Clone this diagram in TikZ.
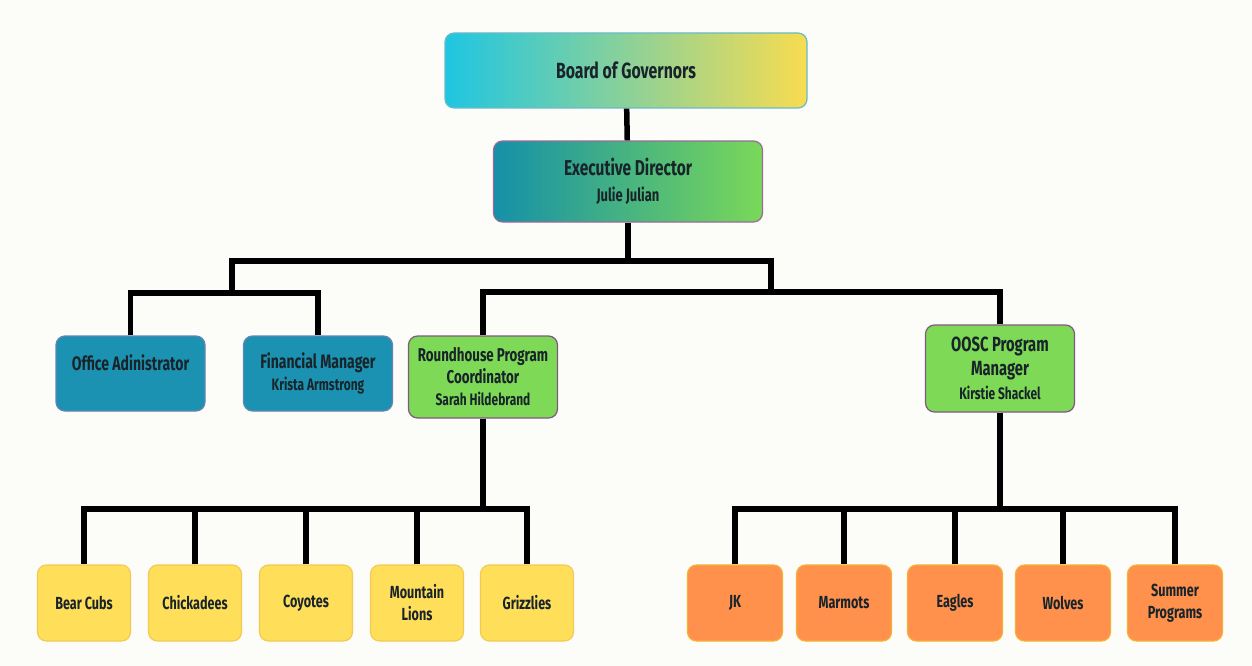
\documentclass[tikz,border=0pt]{standalone}
\usepackage{fontspec}
\newfontfamily\orgfont{Fira Sans}[FakeStretch=0.72]
\usetikzlibrary{positioning}

\definecolor{bgpaper}{HTML}{FCFCF8}
\definecolor{inkdark}{HTML}{18242A}
\definecolor{govleft}{HTML}{1EC6E2}
\definecolor{govright}{HTML}{F8DC50}
\definecolor{exleft}{HTML}{1590A8}
\definecolor{exright}{HTML}{7AD858}
\definecolor{staffblue}{HTML}{1C92B2}
\definecolor{progreen}{HTML}{7ED957}
\definecolor{groupyellow}{HTML}{FFDE59}
\definecolor{grouporange}{HTML}{FF914D}

\tikzset{
  box/.style={rounded corners=9pt, draw, line width=1.2pt, align=center,
    text=inkdark, inner sep=2pt,
    font=\orgfont\bfseries\fontsize{19.5}{22}\selectfont},
  staffbox/.style={box, fill=staffblue, draw=staffblue!70!violet!80,
    minimum width=149pt, minimum height=75pt},
  progbox/.style={box, fill=progreen, draw=gray!70!violet,
    minimum width=149pt},
  yellowbox/.style={box, fill=groupyellow, draw=groupyellow!80!brown,
    minimum width=93pt, minimum height=76pt,
    font=\orgfont\bfseries\fontsize{17.5}{22}\selectfont},
  orangebox/.style={box, fill=grouporange, draw=grouporange!80!brown!70!yellow,
    minimum width=95pt, minimum height=76pt,
    font=\orgfont\bfseries\fontsize{17.5}{22}\selectfont},
  link/.style={line width=5.5pt, draw=black}
}
\newcommand{\who}[1]{{\fontsize{16.6}{20}\selectfont #1}}

\begin{document}
\begin{tikzpicture}[x=1pt,y=-1pt]
\fill[bgpaper] (0,0) rectangle (1252,666);
\useasboundingbox (0,0) rectangle (1252,666);

% top of the tree
\node[box, left color=govleft, right color=govright, draw=govleft!60!gray!80,
  minimum width=362pt, minimum height=75pt,
  font=\orgfont\bfseries\fontsize{22}{22}\selectfont] (board) at (626,70.5) {Board of Governors};
\node[box, left color=exleft, right color=exright, draw=violet!45!gray!80,
  minimum width=269pt, minimum height=81pt,
  font=\orgfont\bfseries\fontsize{21.5}{26}\selectfont] (exec) at (628,181.5)
  {Executive Director\\{\fontsize{18}{20}\selectfont Julie Julian}};

% second level
\node[staffbox] (office) at (130.5,373.5) {Office Adinistrator\\\who{\phantom{K}}};
\node[staffbox] (finance) at (318,373.5) {Financial Manager\\\who{Krista Armstrong}};
\node[progbox, minimum height=82pt, font=\orgfont\bfseries\fontsize{18.5}{22}\selectfont] (round) at (483,377)
  {Roundhouse Program\\Coordinator\\\who{Sarah Hildebrand}};
\node[progbox, minimum height=87pt, font=\orgfont\bfseries\fontsize{20.5}{24}\selectfont] (oosc) at (1000,368.5)
  {OOSC Program\\Manager\\\who{Kirstie Shackel}};

% roundhouse groups
\node[yellowbox] (bear) at (84,603) {Bear Cubs};
\node[yellowbox] (chick) at (195,603) {Chickadees};
\node[yellowbox] (coyote) at (306,603) {Coyotes};
\node[yellowbox] (mount) at (417,603) {Mountain\\Lions};
\node[yellowbox] (grizz) at (527,603) {Grizzlies};

% oosc groups
\node[orangebox] (jk) at (735,603) {JK};
\node[orangebox] (marmot) at (844,603) {Marmots};
\node[orangebox] (eagle) at (955,603) {Eagles};
\node[orangebox] (wolf) at (1063,603) {Wolves};
\node[orangebox] (summer) at (1175,603) {Summer\\Programs};

% junctions
\coordinate (topbar) at (628,261);
\coordinate (lefthub) at (232,293);
\coordinate (righthub) at (771,292);
\coordinate (roundbar) at (483,509);
\coordinate (ooscbar) at (1000,509);

% connectors
\draw[link] (board) -- (exec);
\draw[link] (exec.south) -- (exec.south |- topbar);
\draw[link] (lefthub) -- (lefthub |- topbar) -- (righthub |- topbar) -- (righthub);
\draw[link] (office.north) |- (lefthub) -| (finance.north);
\draw[link] (round.north) |- (righthub) -| (oosc.north);
\draw[link] (round.south) -- (roundbar);
\draw[link] (oosc.south) -- (ooscbar);
\foreach \kid in {bear,chick,coyote,mount,grizz}
  \draw[link] (\kid.north) |- (roundbar);
\foreach \kid in {jk,marmot,eagle,wolf,summer}
  \draw[link] (\kid.north) |- (ooscbar);
\end{tikzpicture}
\end{document}
